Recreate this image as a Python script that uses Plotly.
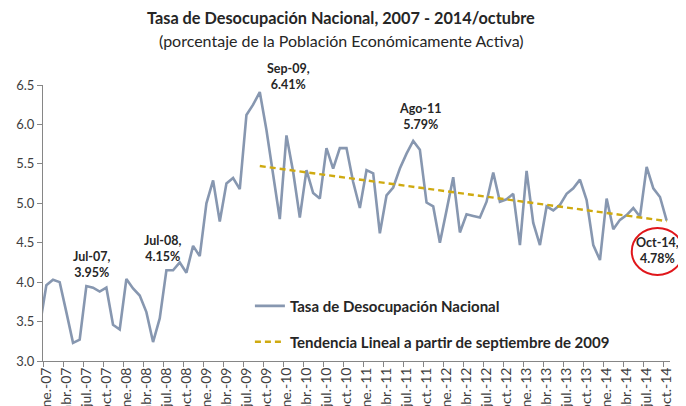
import numpy as np
import plotly.graph_objects as go

# ---------------- data ----------------
month_names = ["ene.", "feb.", "mar.", "abr.", "may.", "jun.",
               "jul.", "ago.", "sep.", "oct.", "nov.", "dic."]
years = ["07", "08", "09", "10", "11", "12", "13", "14"]
months = ["dic.-06"] + [f"{m}-{y}" for y in years for m in month_names][:94]

tasa = [
    3.44,  # dic.-06
    3.96, 4.03, 4.00, 3.62, 3.23, 3.27, 3.95, 3.93, 3.88, 3.93, 3.46, 3.40,   # 2007
    4.04, 3.92, 3.83, 3.62, 3.24, 3.54, 4.15, 4.15, 4.25, 4.12, 4.46, 4.33,   # 2008
    5.00, 5.29, 4.77, 5.25, 5.32, 5.18, 6.12, 6.25, 6.41, 5.93, 5.35, 4.80,   # 2009
    5.86, 5.40, 4.82, 5.42, 5.13, 5.06, 5.70, 5.44, 5.70, 5.70, 5.27, 4.94,   # 2010
    5.42, 5.38, 4.62, 5.10, 5.20, 5.44, 5.63, 5.79, 5.68, 5.01, 4.96, 4.50,   # 2011
    4.91, 5.33, 4.63, 4.86, 4.84, 4.82, 5.02, 5.39, 5.02, 5.05, 5.12, 4.47,   # 2012
    5.41, 4.75, 4.47, 4.96, 4.91, 4.98, 5.12, 5.19, 5.30, 5.04, 4.47, 4.28,   # 2013
    5.06, 4.67, 4.79, 4.85, 4.94, 4.83, 5.46, 5.19, 5.08, 4.78,               # 2014
]

title_text = "Tasa de Desocupación Nacional, 2007 - 2014/octubre"
subtitle_text = "(porcentaje de la Población Económicamente Activa)"

trend_start = "sep.-09"
highlights = [("jul.-07", "Jul-07,<br>3.95%"), ("jul.-08", "Jul-08,<br>4.15%"),
              ("sep.-09", "Sep-09,<br>6.41%"), ("ago.-11", "Ago-11<br>5.79%"),
              ("oct.-14", "Oct-14,<br>4.78%")]

# ---------------- trend (linear fit from Sep-09) ----------------
k0 = months.index(trend_start)
idx = np.arange(k0, len(months))
coef = np.polyfit(idx, np.array(tasa[k0:]), 1)
trend_vals = list(np.polyval(coef, idx))
trend_x = months[k0:]

FONT = "Lato"
TXT = "#262626"

fig = go.Figure()
fig.add_trace(go.Scatter(
    x=months, y=tasa, mode="lines", name="Tasa de Desocupación Nacional",
    line=dict(color="#8797B0", width=2.6), legend="legend", showlegend=True,
    cliponaxis=True))
fig.add_trace(go.Scatter(
    x=trend_x, y=trend_vals, mode="lines",
    name="Tendencia Lineal a partir de septiembre de 2009",
    line=dict(color="#CFAA10", width=2.4, dash="6px,4px"), legend="legend2",
    showlegend=True))

shifts = {"jul.-07": (6, 22), "jul.-08": (-3, 22), "sep.-09": (29, 16),
          "ago.-11": (7, 24), "oct.-14": (-9, -30)}
for m, label in highlights:
    xs, ys = shifts[m]
    fig.add_annotation(x=m, y=tasa[months.index(m)], text=f"<b>{label}</b>",
                       showarrow=False, xshift=xs, yshift=ys,
                       font=dict(family=FONT, size=12.5, color=TXT))

# title and subtitle
fig.add_annotation(xref="paper", yref="paper", x=0.4755, y=1.2428,
                   xanchor="center", yanchor="middle", showarrow=False,
                   text=f"<b>{title_text}</b>",
                   font=dict(family=FONT, size=16.3, color=TXT))
fig.add_annotation(xref="paper", yref="paper", x=0.4755, y=1.163,
                   xanchor="center", yanchor="middle", showarrow=False,
                   text=subtitle_text,
                   font=dict(family=FONT, size=16, color=TXT))

fig.add_shape(type="circle", xref="paper", yref="paper",
              x0=0.939, x1=1.021, y0=0.312, y1=0.482,
              line=dict(color="#E0161B", width=2))

fig.update_layout(
    width=678, height=398,
    margin=dict(l=35, r=16, t=77, b=45),
    showlegend=True,
    paper_bgcolor="white", plot_bgcolor="white",
    font=dict(family=FONT, color=TXT),
    legend=dict(x=0.33, y=0.199, xanchor="left", yanchor="middle",
                bgcolor="rgba(0,0,0,0)",
                font=dict(family=FONT, size=15, color=TXT, weight="bold")),
    legend2=dict(x=0.33, y=0.069, xanchor="left", yanchor="middle",
                 bgcolor="rgba(0,0,0,0)",
                 font=dict(family=FONT, size=15, color=TXT, weight="bold")),
    xaxis=dict(type="category", categoryorder="array", categoryarray=months,
               range=[0.5, len(months) - 0.5], tickmode="linear", tick0=1, dtick=3,
               tickson="boundaries", ticks="outside", ticklen=5, tickcolor="#868686",
               showline=True, linecolor="#868686", linewidth=1, showgrid=False,
               tickangle=-90, tickfont=dict(family=FONT, size=14, color="#404040"),
               automargin=False),
    yaxis=dict(range=[3.0, 6.5], tickvals=[3.0, 3.5, 4.0, 4.5, 5.0, 5.5, 6.0, 6.5],
               tickformat=".1f", ticks="outside", ticklen=5, tickcolor="#868686",
               showline=True, linecolor="#868686", linewidth=1, showgrid=False,
               zeroline=False, tickfont=dict(family=FONT, size=13, color="#404040"),
               automargin=False),
)

fig.write_html("out.html")
